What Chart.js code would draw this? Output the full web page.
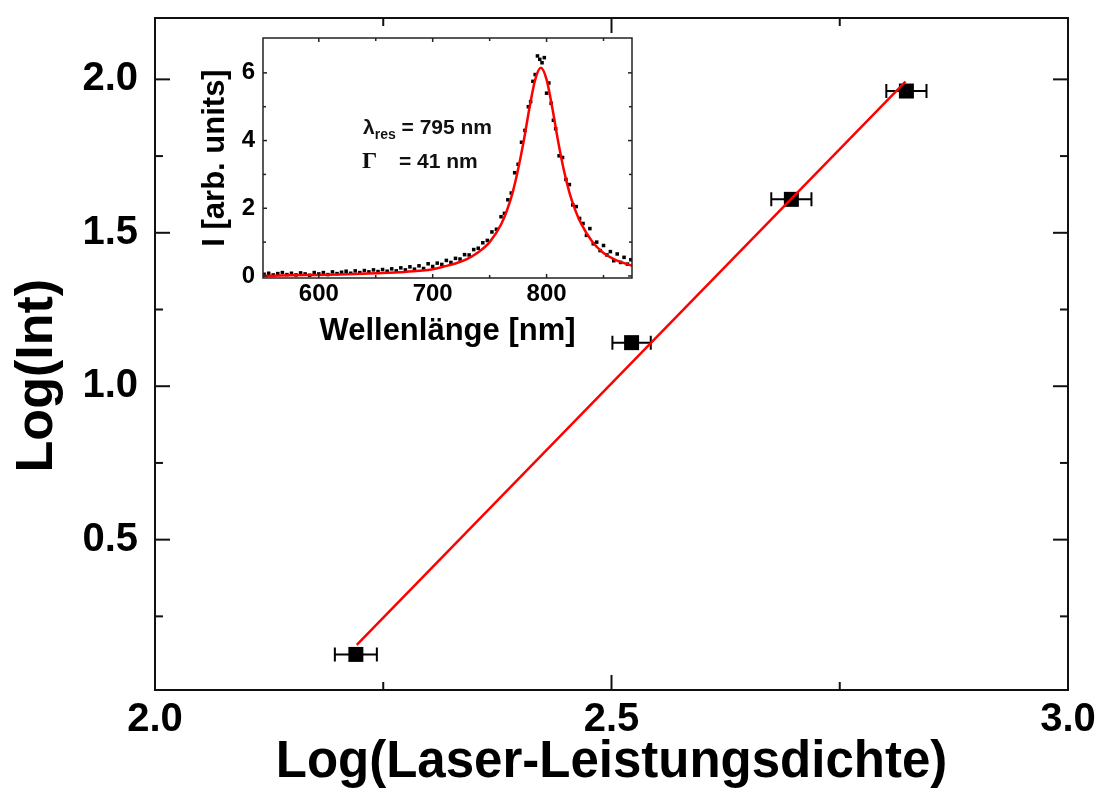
<!DOCTYPE html>
<html><head><meta charset="utf-8">
<script src="https://cdn.jsdelivr.net/npm/chart.js@4.4.0/dist/chart.umd.min.js"></script>
<style>
html,body{margin:0;padding:0;background:#fff;overflow:hidden;width:1100px;height:794px;}
#main{position:absolute;left:0;top:0;}
#inset{position:absolute;left:190px;top:30px;}
.ann{position:absolute;font-family:"Liberation Sans",Arial,sans-serif;font-weight:bold;font-size:21px;color:#111;white-space:nowrap;line-height:1;}
.ann .sub{font-size:14px;position:relative;top:5px;}
.ann.serif{font-family:"Liberation Serif","Times New Roman",serif;font-size:24px;}
</style></head><body>
<canvas id="main" width="1100" height="794"></canvas>
<canvas id="inset" width="460" height="320"></canvas>
<div class="ann" style="left:363px;top:116px;">λ<span class="sub">res</span> = 795 nm</div>
<div class="ann serif" style="left:362px;top:148px;">Γ</div>
<div class="ann" style="left:399px;top:150px;">= 41 nm</div>
<script>
// ---- main plot data ----
const powerX = [2.220, 2.522, 2.697, 2.823];
const intY = [0.126, 1.142, 1.609, 1.962];
const powerErr = [0.023, 0.021, 0.022, 0.022];
const fitX = [2.221, 2.822];
const fitY = [0.157, 1.993];
const mainXTicks = [2.0, 2.5, 3.0];
const mainXMinor = [2.25, 2.75];
const mainYTicks = [0.5, 1.0, 1.5, 2.0];
const mainYMinor = [0.25, 0.75, 1.25, 1.75];

// ---- inset data ----
const specWl = [552,556,560,564,568,572,576,580,584,588,592,596,600,604,608,612,616,620,624,628,632,636,640,644,648,652,656,660,664,668,672,676,680,684,688,692,696,700,704,708,712,716,720,724,728,732,736,740,744,748,752,756,760,763,766,769,772,775,778,781,784,786,788,790,792,794,796,798,800,802,804,806,808,811,814,817,820,823,826,829,832,835,838,841,844,847,850,853,856,859,862,865,868,871,874];
const specI = [0.05,0.08,0.03,0.07,0.10,0.04,0.08,0.03,0.09,0.06,0.02,0.10,0.06,0.10,0.04,0.12,0.07,0.11,0.14,0.08,0.15,0.10,0.16,0.12,0.18,0.13,0.19,0.14,0.21,0.15,0.24,0.18,0.27,0.20,0.30,0.22,0.36,0.28,0.38,0.34,0.46,0.40,0.52,0.50,0.63,0.62,0.78,0.82,0.98,1.05,1.30,1.38,1.75,1.85,2.25,2.45,3.05,3.30,3.95,4.30,5.00,5.15,5.75,5.95,6.50,6.40,6.30,6.45,5.40,5.70,5.10,4.60,4.35,3.55,3.50,2.85,2.70,2.10,2.05,1.70,1.55,1.20,1.40,0.95,1.00,0.75,0.90,0.62,0.72,0.45,0.65,0.40,0.55,0.35,0.48];
const fitWl = [551,575,600,625,650,675,700,710,720,730,740,750,760,765,770,775,780,785,790,795,800,805,810,815,820,825,830,840,850,860,875];
const fitI = [0.00,0.02,0.03,0.05,0.08,0.12,0.20,0.28,0.37,0.50,0.70,1.00,1.52,1.92,2.44,3.15,4.00,4.97,5.80,6.15,5.80,4.97,4.00,3.15,2.47,1.96,1.57,1.02,0.68,0.48,0.30];
const insetXTicks = [600, 700, 800];
const insetXMinor = [650, 750, 850];
const insetYTicks = [0, 2, 4, 6];
const insetYMinor = [1, 3, 5];

const FONT = '"Liberation Sans", Arial, sans-serif';

const frameTicks = {
  id: 'frameTicks',
  afterDraw(chart, args, o) {
    const {ctx, chartArea: a, scales: {x, y}} = chart;
    ctx.save();
    ctx.strokeStyle = o.color; ctx.lineWidth = o.lw;
    ctx.strokeRect(a.left, a.top, a.right - a.left, a.bottom - a.top);
    const seg = (x1, y1, x2, y2) => { ctx.beginPath(); ctx.moveTo(x1, y1); ctx.lineTo(x2, y2); ctx.stroke(); };
    const dX = (vals, len) => vals.forEach(v => { const p = x.getPixelForValue(v); seg(p, a.bottom, p, a.bottom - len); seg(p, a.top, p, a.top + len); });
    const dY = (vals, len) => vals.forEach(v => { const p = y.getPixelForValue(v); seg(a.left, p, a.left + len, p); seg(a.right, p, a.right - len, p); });
    dX(o.xMajor, o.major); dX(o.xMinor, o.minor); dY(o.yMajor, o.major); dY(o.yMinor, o.minor);
    ctx.restore();
  }
};

const errorBars = {
  id: 'errorBars',
  beforeDatasetsDraw(chart) {
    const {ctx, scales: {x, y}} = chart;
    ctx.save(); ctx.strokeStyle = '#000'; ctx.lineWidth = 2;
    powerX.forEach((v, i) => {
      const py = y.getPixelForValue(intY[i]);
      const x1 = x.getPixelForValue(v - powerErr[i]);
      const x2 = x.getPixelForValue(v + powerErr[i]);
      ctx.beginPath();
      ctx.moveTo(x1, py); ctx.lineTo(x2, py);
      ctx.moveTo(x1, py - 7); ctx.lineTo(x1, py + 7);
      ctx.moveTo(x2, py - 7); ctx.lineTo(x2, py + 7);
      ctx.stroke();
    });
    ctx.restore();
  }
};

function setTicks(arr) { return s => { s.ticks = arr.map(v => ({value: v})); }; }
function fixSize(w, h) {
  return s => {
    if (w != null) s.width = w;
    if (h != null) s.height = h;
    s.paddingTop = 0; s.paddingBottom = 0; s.paddingLeft = 0; s.paddingRight = 0;
  };
}

new Chart(document.getElementById('main'), {
  type: 'scatter',
  data: {
    datasets: [
      {
        label: 'fit', data: fitX.map((v, i) => ({x: v, y: fitY[i]})),
        showLine: true, borderColor: '#ff0000', borderWidth: 2.5, pointRadius: 0, order: 0
      },
      {
        label: 'data', data: powerX.map((v, i) => ({x: v, y: intY[i]})),
        pointStyle: 'rect', pointRadius: 10.6, backgroundColor: '#000', borderColor: '#000', borderWidth: 0, order: 1
      }
    ]
  },
  options: {
    responsive: false, animation: false, devicePixelRatio: 1,
    layout: {padding: {left: 0, top: 18, right: 32, bottom: 0}},
    plugins: {
      legend: {display: false}, tooltip: {enabled: false},
      frameTicks: {color: '#111', lw: 2, major: 15, minor: 8, xMajor: mainXTicks, xMinor: mainXMinor, yMajor: mainYTicks, yMinor: mainYMinor}
    },
    scales: {
      x: {
        type: 'linear', min: 2.0, max: 3.0,
        grid: {display: false, drawTicks: false}, border: {display: false},
        afterBuildTicks: setTicks(mainXTicks), afterFit: fixSize(null, 104),
        ticks: {color: '#000', padding: 6, font: {family: FONT, size: 40, weight: 'bold'}, callback: v => Number(v).toFixed(1), maxRotation: 0, autoSkip: false},
        title: {display: true, text: 'Log(Laser-Leistungsdichte)', color: '#000', padding: {top: 0, bottom: 0}, font: {family: FONT, size: 51, weight: 'bold'}}
      },
      y: {
        type: 'linear', min: 0.01, max: 2.2,
        grid: {display: false, drawTicks: false}, border: {display: false},
        afterBuildTicks: setTicks(mainYTicks), afterFit: fixSize(155, null),
        ticks: {color: '#000', padding: 17, font: {family: FONT, size: 40, weight: 'bold'}, callback: v => Number(v).toFixed(1), autoSkip: false},
        title: {display: true, text: 'Log(Int)   ', color: '#000', padding: {top: 6, bottom: 0}, font: {family: FONT, size: 52, weight: 'bold'}}
      }
    }
  },
  plugins: [frameTicks, errorBars]
});

new Chart(document.getElementById('inset'), {
  type: 'scatter',
  data: {
    datasets: [
      {
        label: 'Lorentz fit', data: fitWl.map((v, i) => ({x: v, y: fitI[i]})),
        showLine: true, cubicInterpolationMode: 'monotone', borderColor: '#ff0000', borderWidth: 2.5, pointRadius: 0, order: 0
      },
      {
        label: 'spectrum', data: specWl.map((v, i) => ({x: v, y: specI[i]})),
        pointStyle: 'rect', pointRadius: 2.5, backgroundColor: '#000', borderColor: '#000', borderWidth: 0, order: 1
      }
    ]
  },
  options: {
    responsive: false, animation: false, devicePixelRatio: 1,
    layout: {padding: {left: 0, top: 8, right: 18, bottom: 0}},
    plugins: {
      legend: {display: false}, tooltip: {enabled: false},
      frameTicks: {color: '#222', lw: 1.5, major: 4, minor: 3, xMajor: insetXTicks, xMinor: insetXMinor, yMajor: insetYTicks, yMinor: insetYMinor}
    },
    scales: {
      x: {
        type: 'linear', min: 551, max: 875,
        grid: {display: false, drawTicks: false}, border: {display: false},
        afterBuildTicks: setTicks(insetXTicks), afterFit: fixSize(null, 72),
        ticks: {color: '#000', padding: 2, font: {family: FONT, size: 24, weight: 'bold'}, maxRotation: 0, autoSkip: false},
        title: {display: true, text: 'Wellenlänge [nm]', color: '#000', padding: {top: 0, bottom: 0}, font: {family: FONT, size: 31, weight: 'bold'}}
      },
      y: {
        type: 'linear', min: -0.06, max: 7.03,
        grid: {display: false, drawTicks: false}, border: {display: false},
        afterBuildTicks: setTicks(insetYTicks), afterFit: fixSize(73, null),
        ticks: {color: '#000', padding: 8, font: {family: FONT, size: 24, weight: 'bold'}, autoSkip: false},
        title: {display: true, text: 'I [arb. units]', color: '#000', padding: {top: 7, bottom: 0}, font: {family: FONT, size: 31, weight: 'bold'}}
      }
    }
  },
  plugins: [frameTicks]
});
</script>
</body></html>
